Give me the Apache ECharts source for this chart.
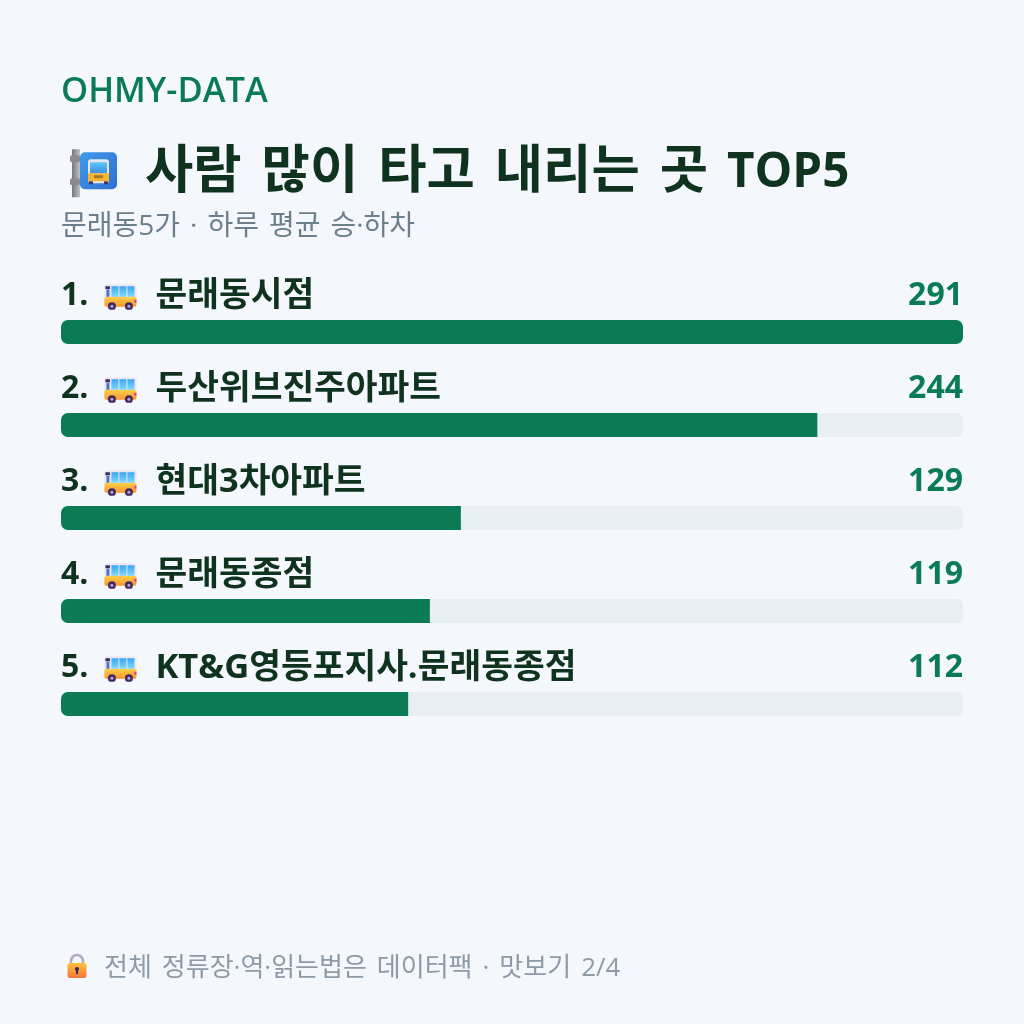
<!DOCTYPE html>
<html>
<head>
<meta charset="utf-8">
<style>html,body{margin:0;padding:0;background:#f4f7fc}#chart{width:1024px;height:1024px}</style>
<script src="https://cdn.jsdelivr.net/npm/echarts@6/dist/echarts.min.js"></script>
</head>
<body>
<div id="chart"></div>
<script>
// Busiest stops in the neighbourhood, average daily boardings and alightings
const stops = ['문래동시점', '두산위브진주아파트', '현대3차아파트', '문래동종점', 'KT&G영등포지사.문래동종점'];
const riders = [291, 244, 129, 119, 112];
const brand = 'OHMY-DATA';
const heading = '사람 많이 타고 내리는 곳';
const headingLatin = 'TOP5';
const subheading = '문래동5가 · 하루 평균 승·하차';
const footnote = '전체 정류장·역·읽는법은 데이터팩 · 맛보기 2/4';

const FONT = '"Open Sans","Noto Sans CJK KR",sans-serif';
const GREEN = '#0a7b55';
const DARK = '#10331f';

const svg = (w, h, body) => 'data:image/svg+xml;charset=utf-8,' + encodeURIComponent(
  `<svg xmlns="http://www.w3.org/2000/svg" width="${w}" height="${h}" viewBox="0 0 ${w} ${h}">${body}</svg>`);

// Small side-on bus used in each row
const busIcon = svg(34, 28, `
  <defs><linearGradient id="b" x1="0" y1="0" x2="0" y2="1"><stop offset="0" stop-color="#ffd04a"/><stop offset="1" stop-color="#f5962e"/></linearGradient>
  <linearGradient id="w" x1="0" y1="0" x2="0" y2="1"><stop offset="0" stop-color="#38a6f2"/><stop offset="1" stop-color="#7fd8f8"/></linearGradient></defs>
  <rect x="1" y="2.5" width="32" height="22" rx="3" fill="#ece6f4"/>
  <rect x="1" y="15" width="32" height="10" rx="2" fill="url(#b)"/>
  <rect x="8" y="4.5" width="7" height="10.5" fill="url(#w)"/>
  <rect x="16" y="4.5" width="7" height="10.5" fill="url(#w)"/>
  <rect x="24" y="4.5" width="7" height="10.5" fill="url(#w)"/>
  <rect x="2" y="4.5" width="4.5" height="3" fill="#3c2a60"/>
  <rect x="3" y="8" width="3" height="7" fill="#4a78c8"/>
  <rect x="31" y="18" width="2" height="3" fill="#e0339a"/>
  <circle cx="8.5" cy="24.5" r="4" fill="#43285f"/><circle cx="8.5" cy="24.5" r="1.5" fill="#b9a6d8"/>
  <circle cx="25.5" cy="24.5" r="4" fill="#43285f"/><circle cx="25.5" cy="24.5" r="1.5" fill="#b9a6d8"/>`);

// Bus stop sign beside the heading
const stopIcon = svg(50, 50, `
  <defs><linearGradient id="s" x1="0" y1="0" x2="1" y2="1"><stop offset="0" stop-color="#3f9bea"/><stop offset="1" stop-color="#2f6fd0"/></linearGradient>
  <linearGradient id="g" x1="0" y1="0" x2="0" y2="1"><stop offset="0" stop-color="#5fc8f5"/><stop offset="1" stop-color="#3a8fe6"/></linearGradient>
  <linearGradient id="p" x1="0" y1="0" x2="1" y2="0"><stop offset="0" stop-color="#77767f"/><stop offset="1" stop-color="#c3c2cb"/></linearGradient></defs>
  <rect x="2" y="1" width="8" height="48" fill="url(#p)"/>
  <rect x="0" y="7" width="10" height="7" rx="2" fill="#8a8992"/>
  <rect x="0" y="30" width="10" height="7" rx="2" fill="#8a8992"/>
  <rect x="10" y="4" width="37" height="37" rx="5" fill="url(#s)"/>
  <rect x="18" y="11" width="21" height="24" rx="3" fill="#e9e4ef"/>
  <rect x="20" y="14" width="17" height="11" fill="url(#g)"/>
  <rect x="18" y="25" width="21" height="8" fill="#f7b733"/>
  <rect x="24" y="27" width="9" height="3" fill="#a9782a"/>
  <rect x="19" y="33" width="4" height="3" fill="#4a3560"/><rect x="34" y="33" width="4" height="3" fill="#4a3560"/>`);

// Padlock in front of the footnote, with spare room below so it sits above the text centre
const lockIcon = svg(22, 32, `
  <defs><linearGradient id="l" x1="0" y1="0" x2="0" y2="1"><stop offset="0" stop-color="#ffc23c"/><stop offset="1" stop-color="#f4763a"/></linearGradient></defs>
  <path d="M5 12V8a6 6 0 0 1 12 0v4" fill="none" stroke="#b5a8c2" stroke-width="2.6"/>
  <rect x="1.5" y="10" width="19" height="15" rx="2.5" fill="url(#l)"/>
  <circle cx="11" cy="16" r="2" fill="#33264f"/><rect x="10" y="16" width="2" height="5" fill="#33264f"/>`);

const picture = (image, width, height) => ({ width, height, backgroundColor: { image } });
// Wraps each word in a text token and keeps the spaces as their own fixed-width tokens
const spaced = text => text.split(' ').map(w => `{t|${w}}`).join('{sp| }');
const BAR_RADIUS = 7;

const chart = echarts.init(document.getElementById('chart'), null, { renderer: 'canvas' });
chart.setOption({
  backgroundColor: '#f4f7fc',
  animation: false,
  title: [
    { text: brand, left: 56, top: 70,
      textStyle: { fontFamily: FONT, fontSize: 34.5, fontWeight: 600, color: GREEN } },
    { text: '{icon|}{gap|}' + spaced(heading) + '{sp2| }{l|' + headingLatin + '}', left: 65, top: 142,
      textStyle: { rich: {
        icon: picture(stopIcon, 50, 50),
        gap: { width: 25, height: 10 },
        sp: { width: 20, fontSize: 20 },
        sp2: { width: 19, fontSize: 20 },
        t: { fontFamily: FONT, fontSize: 52.5, fontWeight: 700, color: DARK },
        l: { fontFamily: FONT, fontSize: 47.5, fontWeight: 700, color: DARK }
      } } },
    { text: spaced(subheading), left: 56, top: 208,
      textStyle: { rich: {
        sp: { width: 10, fontSize: 20 },
        t: { fontFamily: FONT, fontSize: 28, fontWeight: 400, color: '#6c7f8c' }
      } } },
    { text: '{icon|}{gap|}' + spaced(footnote), left: 61, top: 948,
      textStyle: { rich: {
        icon: picture(lockIcon, 22, 32),
        gap: { width: 16, height: 10 },
        sp: { width: 10, fontSize: 20 },
        t: { fontFamily: FONT, fontSize: 26, fontWeight: 400, color: '#8d9aa7' }
      } } }
  ],
  grid: { left: 61, width: 902, top: 285.5, height: 465, containLabel: false },
  xAxis: { type: 'value', min: 0, max: Math.max(...riders), show: false },
  yAxis: [
    {
      type: 'category', inverse: true, data: stops, position: 'left',
      axisLine: { show: false }, axisTick: { show: false },
      axisLabel: {
        inside: true, margin: 0, verticalAlign: 'bottom', padding: [0, 0, 19, 0],
        formatter: (name, i) => `{r|${i + 1}.}{gap|}{bus|}{gap2|}{n|${name}}`,
        rich: {
          r: { fontFamily: FONT, fontSize: 32, fontWeight: 700, color: DARK },
          gap: { width: 15, height: 10 },
          bus: picture(busIcon, 34, 28),
          gap2: { width: 18, height: 10 },
          n: { fontFamily: FONT, fontSize: 34.5, fontWeight: 700, color: DARK }
        }
      }
    },
    {
      type: 'category', inverse: true, data: riders, position: 'right',
      axisLine: { show: false }, axisTick: { show: false },
      axisLabel: {
        inside: true, margin: 0, verticalAlign: 'bottom', padding: [0, 0, 20, 0],
        fontFamily: FONT, fontSize: 32, fontWeight: 700, color: GREEN
      }
    }
  ],
  series: [{
    type: 'bar',
    barWidth: 24,
    showBackground: true,
    backgroundStyle: { color: '#e9edf4', borderRadius: BAR_RADIUS },
    data: riders.map(v => ({
      value: v,
      itemStyle: {
        color: GREEN,
        borderRadius: v === Math.max(...riders) ? BAR_RADIUS : [BAR_RADIUS, 0, 0, BAR_RADIUS]
      }
    }))
  }]
});
</script>
</body>
</html>
